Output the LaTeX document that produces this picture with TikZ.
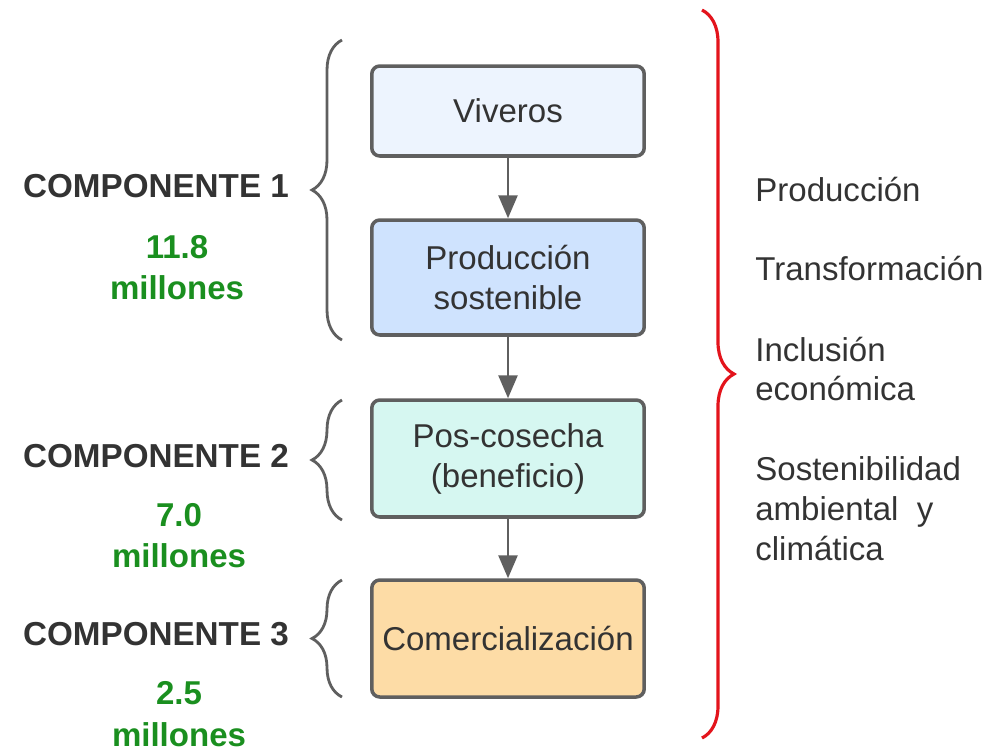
\documentclass[tikz,border=0pt]{standalone}
\usepackage{fontspec}
\setmainfont{Liberation Sans}
\usetikzlibrary{arrows.meta,decorations.pathreplacing}
\definecolor{txtgray}{HTML}{333333}
\definecolor{linegray}{HTML}{5F5F5F}
\definecolor{cgreen}{HTML}{1A8F1F}
\definecolor{cred}{HTML}{E3141C}
\definecolor{fviv}{HTML}{EDF4FE}
\definecolor{fprod}{HTML}{CFE3FE}
\definecolor{fpos}{HTML}{D6F7F1}
\definecolor{fcom}{HTML}{FDDCA6}

\begin{document}
\begin{tikzpicture}[x=0.02cm,y=-0.02cm,
  font=\fontsize{18.8pt}{22.7pt}\selectfont, text=txtgray,
  stage/.style={draw=linegray, line width=2pt, rounded corners=0.16cm,
    minimum width=5.45cm, align=center},
  comp/.style={font=\fontsize{18.9pt}{22pt}\selectfont\bfseries, inner sep=0pt},
  money/.style={font=\fontsize{18.8pt}{23.5pt}\selectfont\bfseries, text=cgreen, align=center, inner sep=0pt},
  goal/.style={anchor=west, align=left, inner sep=0pt},
  flow/.style={draw=linegray, line width=1.5pt, -{Triangle[length=0.46cm,width=0.38cm]}},
  lbrace/.style={draw=linegray, line width=1.6pt, decorate, decoration={brace,amplitude=0.6cm}},
  rbrace/.style={draw=cred, line width=1.8pt, decorate, decoration={brace,amplitude=0.64cm}}]
\useasboundingbox (0,0) rectangle (990,752);

% etapas
\node[stage, fill=fviv, minimum height=1.8cm] (viv) at (508,111) {Viveros};
\node[stage, fill=fprod, minimum height=2.3cm] (prod) at (508,277.5) {Producción\\sostenible};
\node[stage, fill=fpos, minimum height=2.34cm] (pos) at (508,458.5) {Pos-cosecha\\(beneficio)};
\node[stage, fill=fcom, minimum height=2.34cm] (com) at (508,638.5) {Comercialización};
\draw[flow] (viv) -- (prod);
\draw[flow] (prod) -- (pos);
\draw[flow] (pos) -- (com);

% componentes
\coordinate (b1s) at (342,340); \coordinate (b1e) at (342,40);
\coordinate (b2s) at (342,520); \coordinate (b2e) at (342,400);
\coordinate (b3s) at (342,697); \coordinate (b3e) at (342,580);
\draw[lbrace] (b1s) -- (b1e);
\draw[lbrace] (b2s) -- (b2e);
\draw[lbrace] (b3s) -- (b3e);
\node[comp] (c1) at (156,186) {COMPONENTE 1};
\node[comp] (c2) at (156,456) {COMPONENTE 2};
\node[comp] (c3) at (156,634) {COMPONENTE 3};
\node[money] (m1) at (177,267.5) {11.8\\millones};
\node[money] (m2) at (179,535.5) {7.0\\millones};
\node[money] (m3) at (179,714) {2.5\\millones};

% ejes
\coordinate (rs) at (702,10); \coordinate (re) at (702,738);
\draw[rbrace] (rs) -- (re);
\node[goal] (g1) at (755,189) {Producción};
\node[goal] (g2) at (755,268) {Transformación};
\node[goal] (g3) at (755,369) {Inclusión\\económica};
\node[goal] (g4) at (755,509) {Sostenibilidad\\ambiental~ y\\climática};
\end{tikzpicture}
\end{document}
